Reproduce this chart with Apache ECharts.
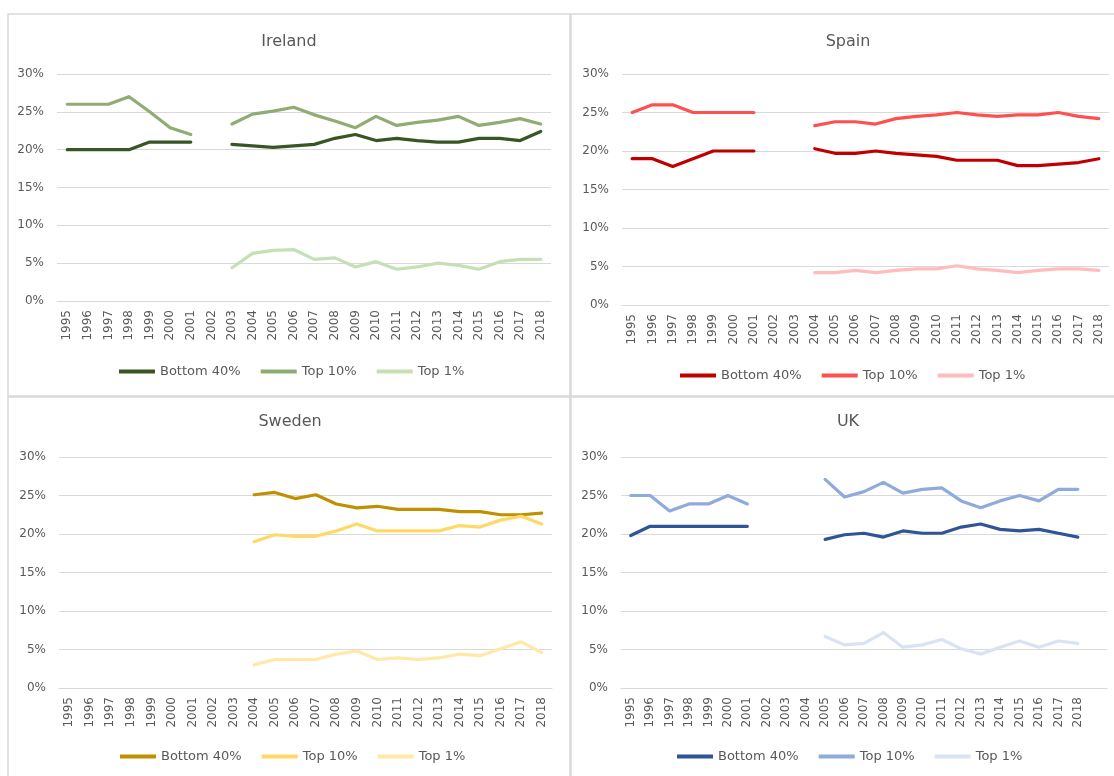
<!DOCTYPE html>
<html>
<head>
<meta charset="utf-8">
<script src="https://cdn.jsdelivr.net/npm/echarts@6/dist/echarts.min.js"></script>
<style>
html,body{margin:0;padding:0;background:#fff;}
.c{position:absolute;left:0;top:0;width:1114px;height:776px;}
</style>
</head>
<body>
<div id="c1" class="c"></div>
<div id="c2" class="c"></div>
<div id="c3" class="c"></div>
<div id="c4" class="c"></div>
<script>
const years = ['1995','1996','1997','1998','1999','2000','2001','2002','2003','2004','2005','2006','2007','2008','2009','2010','2011','2012','2013','2014','2015','2016','2017','2018'];
const ukYears = years.concat(['']);
const seriesNames = ['Bottom 40%', 'Top 10%', 'Top 1%'];
const yTicks = [0, 5, 10, 15, 20, 25, 30];

const irelandBottom40 = [20,20,20,20,21,21,21,null,20.7,20.5,20.3,20.5,20.7,21.5,22.0,21.2,21.5,21.2,21.0,21.0,21.5,21.5,21.2,22.4];
const irelandTop10 = [26,26,26,27,25,22.9,22,null,23.4,24.7,25.1,25.6,24.6,23.8,22.9,24.4,23.2,23.6,23.9,24.4,23.2,23.6,24.1,23.4];
const irelandTop1 = [null,null,null,null,null,null,null,null,4.4,6.3,6.7,6.8,5.5,5.7,4.5,5.2,4.2,4.5,5.0,4.7,4.2,5.2,5.5,5.5];

const spainBottom40 = [19,19,18,19,20,20,20,null,null,20.3,19.7,19.7,20.0,19.7,19.5,19.3,18.8,18.8,18.8,18.1,18.1,18.3,18.5,19.0];
const spainTop10 = [25,26,26,25,25,25,25,null,null,23.3,23.8,23.8,23.5,24.2,24.5,24.7,25.0,24.7,24.5,24.7,24.7,25.0,24.5,24.2];
const spainTop1 = [null,null,null,null,null,null,null,null,null,4.2,4.2,4.5,4.2,4.5,4.7,4.7,5.1,4.7,4.5,4.2,4.5,4.7,4.7,4.5];

const swedenBottom40 = [null,null,null,null,null,null,null,null,null,25.1,25.4,24.6,25.1,23.9,23.4,23.6,23.2,23.2,23.2,22.9,22.9,22.5,22.5,22.7];
const swedenTop10 = [null,null,null,null,null,null,null,null,null,19.0,19.9,19.7,19.7,20.4,21.3,20.4,20.4,20.4,20.4,21.1,20.9,21.8,22.3,21.3];
const swedenTop1 = [null,null,null,null,null,null,null,null,null,3.0,3.7,3.7,3.7,4.4,4.8,3.7,3.9,3.7,3.9,4.4,4.2,5.1,6.0,4.6];

const ukBottom40 = [19.8,21,21,21,21,21,21,null,null,null,19.3,19.9,20.1,19.6,20.4,20.1,20.1,20.9,21.3,20.6,20.4,20.6,20.1,19.6];
const ukTop10 = [25,25,23,23.9,23.9,25,23.9,null,null,null,27.1,24.8,25.5,26.7,25.3,25.8,26.0,24.3,23.4,24.3,25.0,24.3,25.8,25.8];
const ukTop1 = [null,null,null,null,null,null,null,null,null,null,6.7,5.6,5.8,7.2,5.3,5.6,6.3,5.1,4.4,5.3,6.1,5.3,6.1,5.8];

const FONT = 'DejaVu Sans';
const TXT = '#595959';
const GRID = '#d9d9d9';

const panels = [
  { id:'c1', title:'Ireland', cats: years, data:[irelandBottom40, irelandTop10, irelandTop1],
    colors:['#375623','#8fac72','#c5e0b4'],
    grid:{left:57, top:74, width:494, height:227}, titleX:289, titleY:34, legendX:119, legendY:365 },
  { id:'c2', title:'Spain', cats: years, data:[spainBottom40, spainTop10, spainTop1],
    colors:['#c00000','#ff5050','#ffbcbc'],
    grid:{left:622, top:74, width:487, height:231}, titleX:848, titleY:34, legendX:680, legendY:369 },
  { id:'c3', title:'Sweden', cats: years, data:[swedenBottom40, swedenTop10, swedenTop1],
    colors:['#bf9000','#ffd966','#ffe8a8'],
    grid:{left:59, top:457, width:493, height:231}, titleX:290, titleY:414, legendX:120, legendY:750 },
  { id:'c4', title:'UK', cats: ukYears, data:[ukBottom40, ukTop10, ukTop1],
    colors:['#2f5597','#8faadc','#dae3f3'],
    grid:{left:621, top:457, width:486, height:231}, titleX:848, titleY:414, legendX:677, legendY:750 }
];

panels.forEach((p, idx) => {
  const chart = echarts.init(document.getElementById(p.id), null, {renderer:'canvas'});
  const option = {
    animation:false,
    title:{ text:p.title, left:p.titleX, top:p.titleY, textAlign:'center', padding:0,
      textStyle:{ fontFamily:FONT, fontSize:16, fontWeight:'normal', color:TXT } },
    legend:{ left:p.legendX, top:p.legendY, padding:0, itemGap:20, itemWidth:36, itemHeight:4,
      icon:'rect', selectedMode:false, data:seriesNames,
      textStyle:{ fontFamily:FONT, fontSize:13, color:TXT } },
    grid:p.grid,
    xAxis:{ type:'category', data:p.cats, boundaryGap:true,
      axisLine:{ show:true, lineStyle:{ color:GRID, width:1 } },
      axisTick:{ show:false },
      axisLabel:{ interval:0, rotate:90, margin:9, fontFamily:FONT, fontSize:12, color:TXT } },
    yAxis:{ type:'value', min:yTicks[0], max:yTicks[yTicks.length-1], interval:5,
      axisLine:{ show:false }, axisTick:{ show:false },
      splitLine:{ lineStyle:{ color:GRID, width:1 } },
      axisLabel:{ formatter:'{value}%', margin:13, fontFamily:FONT, fontSize:12, color:TXT } },
    series: seriesNames.map((n, i) => ({
      name:n, type:'line', data:p.data[i], symbol:'none', connectNulls:false,
      color:p.colors[i],
      lineStyle:{ width:3.2, color:p.colors[i], cap:'round', join:'round' }
    }))
  };
  if (idx === 0) {
    option.graphic = [
      { type:'rect', shape:{x:8, y:14, width:562, height:382}, style:{fill:'none', stroke:GRID, lineWidth:1.5}, silent:true },
      { type:'rect', shape:{x:571, y:14, width:560, height:382}, style:{fill:'none', stroke:GRID, lineWidth:1.5}, silent:true },
      { type:'rect', shape:{x:8, y:397, width:562, height:400}, style:{fill:'none', stroke:GRID, lineWidth:1.5}, silent:true },
      { type:'rect', shape:{x:571, y:397, width:560, height:400}, style:{fill:'none', stroke:GRID, lineWidth:1.5}, silent:true }
    ];
  }
  chart.setOption(option);
});
</script>
</body>
</html>
